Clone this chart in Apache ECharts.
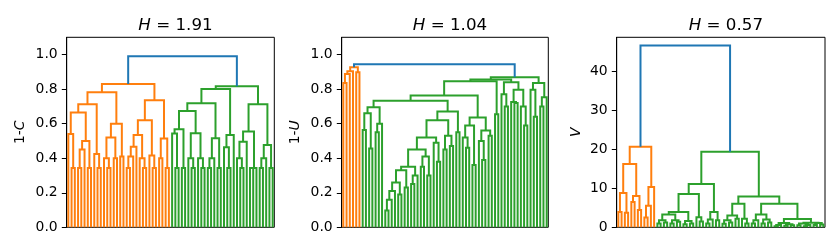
<!DOCTYPE html>
<html><head><meta charset="utf-8">
<script src="https://cdn.jsdelivr.net/npm/echarts@6/dist/echarts.min.js"></script>
<style>html,body{margin:0;padding:0;background:#fff}#c{width:839px;height:250px}</style>
</head><body><div id="c"></div>
<script>
// ---- data ----
const titleValues = ['1.91', '1.04', '0.57'];
const yNames = ['1-{i|C}', '1-{i|U}', '{i|V}'];
const yMax = [1.1, 1.1, 48.6];
const yTicksA = [0, 0.2, 0.4, 0.6, 0.8, 1.0];
const yTicksB = [0, 10, 20, 30, 40];
const baseHeights = [0.344, 0, 0];        // height at which grouped leaves merge
const rootHeights = [0.99, 0.944, 46.5];  // blue top link

// trees: node = [height, left, right]; integer k = group of k leaves merged at base height
const orange1 = [0.83,
  [0.782,
    [0.712,
      [0.665, [0.54, 1, 2], [0.50, [0.45, 2, 1], 2]],
      [0.424, 1, 2]],
    [0.60,
      [0.52, [0.40, 1, 2], [0.40, 1, 1]],
      [0.41, 1, 1]]],
  [0.735,
    [0.62,
      [0.535, [0.467, [0.41, 2, 1], 1], [0.40, 1, 2]],
      [0.416, 1, 2]],
    [0.514, [0.40, 1, 1], 2]]];
const green1 = [0.817,
  [0.80,
    [0.718,
      [0.673,
        [0.568, [0.543, 1, 2], 2],
        [0.545, [0.40, 1, 2], [0.40, 1, 2]]],
      [0.515, [0.40, 2, 1], 2]],
    [0.535, [0.463, 1, 2], 1]],
  [0.712,
    [0.555, [0.496, [0.40, 1, 2], 1], 3],
    [0.477, [0.40, 2, 1], 2]]];

const orange2 = [0.926, [0.903, [0.887, [0.835, 1, 1], 1], 1], [0.897, 1, 1]];
const g2F = [0.695, [0.66, [0.563, 1, 1], [0.456, 1, 1]], [0.60, [0.55, 1, 1], 1]];
const g2G = [0.67,
  [0.62,
    [0.52,
      [0.45,
        [0.35,
          [0.33, [0.26, [0.21, [0.16, [0.097, 1, 1], 1], 1], [0.19, 1, 1]], [0.23, 1, 1]],
          [0.30, [0.25, 1, 1], 1]],
        [0.41, [0.35, 1, 1], [0.30, 1, 1]]],
      [0.49, 1, [0.38, 1, 1]]],
    [0.53, [0.45, 1, 1], [0.47, 1, 1]]],
  [0.55, 1, 1]];
const g2E = [0.635, [0.59, [0.52, 1, [0.46, 1, 1]], [0.36, 1, 1]], [0.56, [0.50, 1, [0.39, 1, 1]], [0.53, 1, 1]]];
const g2D = [0.654, 1, 1];
const g2C = [0.84, [0.77, 1, [0.70, 1, 1]], [0.796, [0.726, 1, [0.72, 1, 1]], [0.70, 1, [0.59, 1, 1]]]];
const g2B = [0.835, [0.796, 1, [0.64, 1, 1]], [0.753, [0.70, 1, 1], 1]];
const green2 = [0.868, [0.855, [0.845, [0.763, [0.732, g2F, g2G], g2E], g2D], g2C], g2B];

const orange3 = [20.6,
  [16.2, [8.8, [3.9, 1, 1], [3.7, 1, 1]], [8.0, [6.5, 1, 1], [4.4, 1, 1]]],
  [10.3, [5.5, [2.5, 1, 1], 1], 1]];
const green3 = [19.3,
  [11.1,
    [8.5,
      [3.9,
        [3.3, [1.8, [1.0, 1, 1], [1.2, 1, 1]], [1.8, [1.0, 1, 1], [1.4, 1, 1]]],
        [1.6, [0.8, 1, 1], [1.0, 1, 1]]],
      [2.6, 1, [1.5, 1, 1]]],
    [3.9, [2.0, [1.0, 1, 1], 1], [1.8, 1, 1]]],
  [7.9,
    [6.0,
      [3.0, [1.8, [0.9, 1, 1], [1.2, 1, 1]], [2.2, 1, 1]],
      [2.2, 1, [1.0, 1, 1]]],
    [6.0,
      [3.3, [1.8, [1.0, 1, 1], 1], [2.0, [1.0, 1, 1], [1.2, 1, 1]]],
      [2.1,
        [1.1, [0.6, [0.3, 1, 1], 1], [0.8, [0.4, 1, 1], [0.5, 1, 1]]],
        [1.15, [1.0, [0.5, 1, 1], [0.6, [0.3, 1, 1], 1]], [1.1, [0.6, 1, 1], [0.7, 1, 1]]]]]]];

const trees = [[orange1, green1], [orange2, green2], [orange3, green3]];

// ---- layout (scipy-style: leaves at 5 + 10 i) ----
function build(oT, gT, rootH, baseH) {
  let leaf = 0;
  const segs = { C1: [], C2: [], C0: [] };
  function walk(node, c) {
    if (typeof node === 'number') {
      let x = 5 + 10 * leaf; leaf++;
      let h = 0;
      for (let j = 1; j < node; j++) {
        const x2 = 5 + 10 * leaf; leaf++;
        segs[c].push([[x, h], [x, baseH], [x2, baseH], [x2, 0]]);
        x = (x + x2) / 2; h = baseH;
      }
      return [x, h];
    }
    const a = walk(node[1], c), b = walk(node[2], c);
    segs[c].push([[a[0], a[1]], [a[0], node[0]], [b[0], node[0]], [b[0], b[1]]]);
    return [(a[0] + b[0]) / 2, node[0]];
  }
  const o = walk(oT, 'C1'), g = walk(gT, 'C2');
  segs.C0.push([[o[0], o[1]], [o[0], rootH], [g[0], rootH], [g[0], g[1]]]);
  return { segs, n: leaf };
}

const colors = { C0: '#1f77b4', C1: '#ff7f0e', C2: '#2ca02c' };
const gridLefts = [66.7, 341.7, 616.7];
const gridWidths = [207.6, 206.6, 208.3];
const FONT = 'DejaVu Sans';

const grids = [], xAxes = [], yAxes = [], series = [], titles = [];
trees.forEach((t, p) => {
  const r = build(t[0], t[1], rootHeights[p], baseHeights[p]);
  grids.push({ left: gridLefts[p], top: 37.3, width: gridWidths[p], height: 190, show: true, borderColor: '#000', borderWidth: 1, containLabel: false });
  xAxes.push({ gridIndex: p, type: 'value', min: 0, max: 10 * r.n, show: false });
  const ticks = p < 2 ? yTicksA : yTicksB;
  yAxes.push({
    gridIndex: p, type: 'value', min: 0, max: yMax[p],
    name: yNames[p], nameLocation: 'middle', nameRotate: 90, nameGap: p < 2 ? 39 : 33,
    nameTextStyle: { fontFamily: FONT, fontSize: 13.9, color: '#000', rich: { i: { fontFamily: FONT, fontSize: 13.9, fontStyle: 'italic', color: '#000' } } },
    axisLine: { show: true, lineStyle: { color: '#000', width: 1 } },
    axisTick: { show: true, inside: false, length: 4.9, lineStyle: { color: '#000', width: 1 }, customValues: ticks },
    axisLabel: { customValues: ticks, margin: 9, fontFamily: FONT, fontSize: 13.9, color: '#000',
      formatter: v => p < 2 ? v.toFixed(1) : String(Math.round(v)) },
    splitLine: { show: false }
  });
  ['C1', 'C2', 'C0'].forEach(c => {
    series.push({
      type: 'lines', coordinateSystem: 'cartesian2d', xAxisIndex: p, yAxisIndex: p,
      polyline: true, silent: true, animation: false,
      lineStyle: { color: colors[c], width: 2, opacity: 1, curveness: 0, cap: 'butt' },
      data: r.segs[c].map(s => ({ coords: s }))
    });
  });
  titles.push({
    text: '{i|H} = ' + titleValues[p], left: gridLefts[p] + gridWidths[p] / 2, top: 12, textAlign: 'center',
    textStyle: { fontFamily: FONT, fontSize: 16.7, fontWeight: 'normal', color: '#000',
      rich: { i: { fontFamily: FONT, fontSize: 16.7, fontStyle: 'italic', color: '#000' } } }
  });
});

const chart = echarts.init(document.getElementById('c'), null, { renderer: 'canvas' });
chart.setOption({ animation: false, title: titles, grid: grids, xAxis: xAxes, yAxis: yAxes, series });
</script></body></html>
